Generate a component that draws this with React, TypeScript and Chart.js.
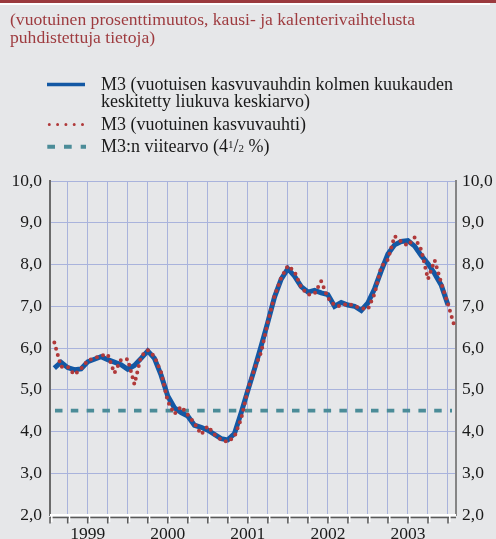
import React, { useEffect, useRef } from 'react';
import { Chart, registerables } from 'chart.js';

Chart.register(...registerables);

// Year labels (placed at mid-year), months counted from January 1999
const yearLabels = ['1999', '2000', '2001', '2002', '2003'];

// M3 annual growth rate, monthly, Jan 1999 – Jan 2004 (%)
const m3Monthly = [
  6.13, 5.55, 5.55, 5.36, 5.5, 5.7, 5.75, 5.82, 5.85, 5.4, 5.72, 5.73,
  5.13, 5.8, 5.95, 5.8, 5.42, 4.72, 4.42, 4.6, 4.4, 4.2, 3.93, 4.13,
  3.93, 3.8, 3.75, 3.88, 4.3, 5.0, 5.5, 5.9, 6.62, 7.25, 7.68, 7.97,
  7.83, 7.45, 7.28, 7.3, 7.6, 7.2, 7.02, 7.0, 7.07, 7.0, 6.95, 6.93,
  7.3, 7.95, 8.12, 8.68, 8.55, 8.45, 8.65, 8.35, 7.65, 8.1, 7.55, 7.05,
  6.5,
];

// Three-month centred moving average, Jan 1999 – Dec 2003 (%)
const m3ThreeMonthAvg = [
  5.52, 5.66, 5.53, 5.48, 5.5, 5.67, 5.73, 5.79, 5.72, 5.66, 5.6, 5.49,
  5.58, 5.75, 5.93, 5.75, 5.35, 4.85, 4.57, 4.45, 4.37, 4.15, 4.1, 4.03,
  3.93, 3.83, 3.8, 3.95, 4.45, 4.98, 5.5, 6.05, 6.62, 7.22, 7.65, 7.9,
  7.72, 7.47, 7.34, 7.38, 7.32, 7.28, 7.0, 7.09, 7.03, 7.0, 6.9, 7.08,
  7.42, 7.85, 8.25, 8.47, 8.55, 8.57, 8.44, 8.21, 8.02, 7.78, 7.5, 7.03,
];

// Reference value 4½ %
const referenceValue = 4.5;

const quarterTicks = [3, 6, 9, 12, 15, 18, 21, 24, 27, 30, 33, 36, 39, 42, 45, 48, 51, 54, 57, 60];

const SERIF = '"Liberation Serif", "Times New Roman", serif';
const BG = '#e6e7e9';
const GRID = '#a9b3dc';
const BLUE = '#1358a4';
const RED = '#b0393a';
const TEAL = '#4b8c98';

const fmt = (v: number) => v.toFixed(1).replace('.', ',');

const axisPlugin = {
  id: 'bottomAxis',
  afterDraw(chart: any) {
    const { ctx, chartArea } = chart;
    const xs = chart.scales.x;
    const { left, right, bottom } = chartArea;
    ctx.save();
    ctx.strokeStyle = '#ffffff';
    ctx.lineWidth = 2;
    ctx.beginPath();
    ctx.moveTo(left, bottom);
    ctx.lineTo(right, bottom);
    ctx.stroke();
    ctx.strokeStyle = '#5a5a5a';
    ctx.lineWidth = 1.5;
    ctx.beginPath();
    ctx.moveTo(left, bottom + 2.5);
    ctx.lineTo(right, bottom + 2.5);
    ctx.stroke();
    const ticks = [0, ...quarterTicks];
    for (const v of ticks) {
      let px = xs.getPixelForValue(v);
      if (px < left) px = left;
      ctx.strokeStyle = '#ffffff';
      ctx.lineWidth = 1.5;
      ctx.beginPath();
      ctx.moveTo(px + 1.8, bottom + 1);
      ctx.lineTo(px + 1.8, bottom + 7);
      ctx.stroke();
      ctx.strokeStyle = '#5a5a5a';
      ctx.lineWidth = 1.5;
      ctx.beginPath();
      ctx.moveTo(px, bottom + 2);
      ctx.lineTo(px, bottom + 8.5);
      ctx.stroke();
    }
    ctx.restore();
  },
};

export default function App() {
  const ref = useRef<HTMLCanvasElement | null>(null);

  useEffect(() => {
    if (!ref.current) return;
    const tickFont = { family: SERIF, size: 17.5 };
    const chart = new Chart(ref.current, {
      type: 'line',
      data: {
        datasets: [
          {
            label: 'M3 (vuotuinen kasvuvauhti)',
            data: m3Monthly.map((y, i) => ({ x: i + 1, y })),
            borderColor: RED,
            borderWidth: 4,
            borderDash: [0, 6.5],
            borderCapStyle: 'round',
            pointRadius: 0,
            fill: false,
            order: 1,
          },
          {
            label: 'M3 (vuotuisen kasvuvauhdin kolmen kuukauden keskitetty liukuva keskiarvo)',
            data: m3ThreeMonthAvg.map((y, i) => ({ x: i + 1, y })),
            borderColor: BLUE,
            borderWidth: 5,
            pointRadius: 0,
            fill: false,
            order: 2,
          },
          {
            label: 'M3:n viitearvo (4½ %)',
            data: [
              { x: 1.1, y: referenceValue },
              { x: 60.6, y: referenceValue },
            ],
            borderColor: TEAL,
            borderWidth: 3.8,
            borderDash: [7.5, 8.3],
            pointRadius: 0,
            fill: false,
            order: 3,
          },
        ],
      },
      options: {
        responsive: false,
        animation: false,
        layout: { padding: { top: 181, left: 0, right: 0, bottom: 0 } },
        plugins: { legend: { display: false }, tooltip: { enabled: false }, title: { display: false } },
        scales: {
          x: {
            type: 'linear',
            min: 0.35,
            max: 61.2,
            afterBuildTicks: (s: any) => {
              s.ticks = quarterTicks.map((v) => ({ value: v }));
            },
            afterFit: (s: any) => {
              s.height = 24;
            },
            grid: { color: GRID, lineWidth: 1, drawTicks: false },
            border: { display: false },
            ticks: {
              autoSkip: false,
              maxRotation: 0,
              padding: 9,
              color: '#1a1a1a',
              font: tickFont,
              callback: (v: any) => {
                const n = Number(v);
                if ((n - 6) % 12 === 0) return yearLabels[(n - 6) / 12];
                return '';
              },
            },
          },
          y: {
            position: 'left',
            min: 2,
            max: 10,
            afterFit: (s: any) => {
              s.width = 50;
            },
            grid: { color: GRID, lineWidth: 1, drawTicks: false },
            border: { display: true, color: '#6b6b6b', width: 2 },
            ticks: { stepSize: 1, padding: 8, color: '#1a1a1a', font: tickFont, callback: (v: any) => fmt(Number(v)) },
          },
          y2: {
            position: 'right',
            min: 2,
            max: 10,
            afterFit: (s: any) => {
              s.width = 40;
            },
            grid: { display: false, drawTicks: false },
            border: { display: true, color: '#858585', width: 2 },
            ticks: { stepSize: 1, padding: 6, color: '#1a1a1a', font: tickFont, callback: (v: any) => fmt(Number(v)) },
          },
        },
      } as any,
      plugins: [axisPlugin],
    });
    return () => chart.destroy();
  }, []);

  const textStyle: React.CSSProperties = {
    position: 'absolute',
    fontFamily: SERIF,
    fontSize: 18,
    lineHeight: '17px',
    color: '#1a1a1a',
    whiteSpace: 'nowrap',
  };

  return (
    <div style={{ position: 'absolute', left: 0, top: 0, width: 496, height: 539, background: BG, overflow: 'hidden' }}>
      <div style={{ position: 'absolute', left: 0, top: 0, width: 496, height: 3, background: '#9b3a3e' }} />
      <div style={{ position: 'absolute', left: 0, top: 3, width: 490, height: 2, background: '#ffffff' }} />
      <canvas ref={ref} width={496} height={539} style={{ position: 'absolute', left: 0, top: 0, width: 496, height: 539 }} />
      <div style={{ ...textStyle, left: 10, top: 10, fontSize: 17.6, lineHeight: '18px', color: '#9e3b3f' }}>
        (vuotuinen prosenttimuutos, kausi- ja kalenterivaihtelusta
        <br />
        puhdistettuja tietoja)
      </div>
      <svg style={{ position: 'absolute', left: 0, top: 0 }} width={100} height={160}>
        <line x1={47} y1={84.5} x2={85} y2={84.5} stroke={BLUE} strokeWidth={3.5} />
        <line x1={49.3} y1={124.5} x2={86} y2={124.5} stroke={RED} strokeWidth={3} strokeLinecap="round" strokeDasharray="0 8.3" />
        <line x1={47.3} y1={146.7} x2={86} y2={146.7} stroke={TEAL} strokeWidth={4} strokeDasharray="7.7 9" />
      </svg>
      <div style={{ ...textStyle, left: 101, top: 76 }}>
        M3 (vuotuisen kasvuvauhdin kolmen kuukauden
        <br />
        keskitetty liukuva keskiarvo)
      </div>
      <div style={{ ...textStyle, left: 101, top: 115.5 }}>M3 (vuotuinen kasvuvauhti)</div>
      <div style={{ ...textStyle, left: 101, top: 138 }}>
        M3:n viitearvo (4<sup style={{ fontSize: 11, verticalAlign: 'top', lineHeight: '10px', position: 'relative', top: 1 }}>1</sup>/<span style={{ fontSize: 11 }}>2</span>&nbsp;%)
      </div>
    </div>
  );
}
